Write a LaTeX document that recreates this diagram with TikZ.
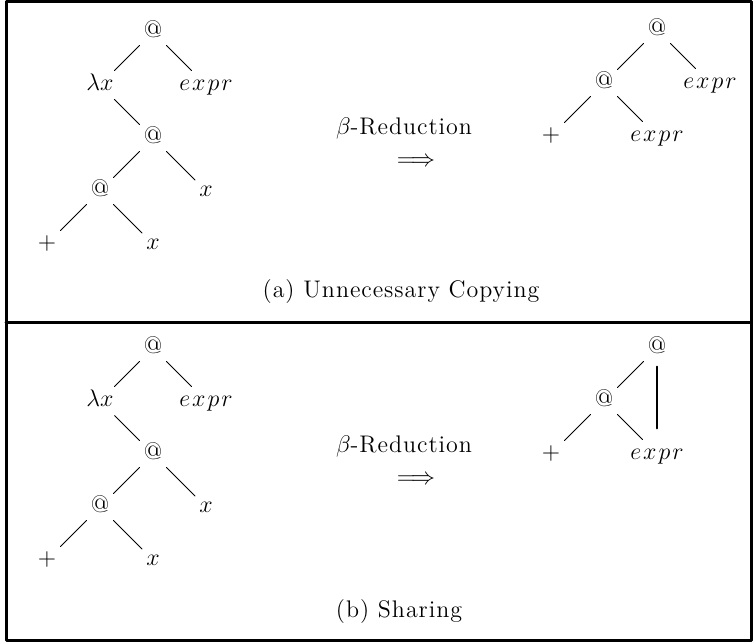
\documentclass[tikz,border=0pt]{standalone}
\usepackage{fontspec}
\setmainfont{Latin Modern Roman}[LetterSpace=4]
\usepackage{tikz}
\usetikzlibrary{positioning}
\newcommand{\exprterm}{e\mkern1.5mu x\mkern1.5mu p\mkern1.5mu r}
\tikzset{
  term diagram/.style={
    font=\fontsize{12}{14}\selectfont,
    line cap=round,
    line join=round
  },
  termnode/.style={
    inner sep=2pt,
    text height=8pt,
    text depth=2.2pt
  },
  labelnode/.style={
    inner sep=0pt
  },
  stepnode/.style={
    labelnode,
    align=center,
    anchor=base,
    font=\fontsize{12}{16}\selectfont
  },
  treeedge/.style={
    draw=black,
    line width=0.5pt
  },
  shareedge/.style={
    draw=black,
    line width=1.1pt
  },
  framebox/.style={
    draw=black,
    line width=1.5pt
  }
}

\begin{document}
\begin{tikzpicture}[term diagram, x=0.5pt, y=-0.5pt, node distance=26.5pt and 26.5pt, on grid]
\useasboundingbox (0,0) rectangle (754,642);
\draw[framebox] (6,2) rectangle (751,640);
\draw[framebox] (6,322) -- (751,322);

% (a) unnecessary copying
\node[termnode] (a-app) at (153,32) {@};
\node[termnode, below left=of a-app] (a-lam) {$\lambda x$};
\node[termnode, below right=of a-app] (a-arg) {$\exprterm$};
\node[termnode, below right=of a-lam] (a-body) {@};
\node[termnode, below left=of a-body] (a-inner) {@};
\node[termnode, below right=of a-body] (a-x1) {$x$};
\node[termnode, below left=of a-inner] (a-plus) {$+$};
\node[termnode, below right=of a-inner] (a-x2) {$x$};

\node[stepnode] (a-red) at (404,166) {$\beta$-Reduction\\\hspace*{12pt}$\Longrightarrow$};

\node[termnode] (a-res) at (657,30) {@};
\node[termnode, below left=of a-res] (a-resapp) {@};
\node[termnode, below right=of a-res] (a-resarg) {$\exprterm$};
\node[termnode, below left=of a-resapp] (a-resplus) {$+$};
\node[termnode, below right=of a-resapp] (a-rescopy) {$\exprterm$};

\node[labelnode] (a-cap) at (401,292) {(a) Unnecessary Copying};

\draw[treeedge] (a-app) -- (a-lam);
\draw[treeedge] (a-app) -- (a-arg);
\draw[treeedge] (a-lam) -- (a-body);
\draw[treeedge] (a-body) -- (a-inner);
\draw[treeedge] (a-body) -- (a-x1);
\draw[treeedge] (a-inner) -- (a-plus);
\draw[treeedge] (a-inner) -- (a-x2);
\draw[treeedge] (a-res) -- (a-resapp);
\draw[treeedge] (a-res) -- (a-resarg);
\draw[treeedge] (a-resapp) -- (a-resplus);
\draw[treeedge] (a-resapp) -- (a-rescopy);

% (b) sharing
\node[termnode] (b-app) at (153,348) {@};
\node[termnode, below left=of b-app] (b-lam) {$\lambda x$};
\node[termnode, below right=of b-app] (b-arg) {$\exprterm$};
\node[termnode, below right=of b-lam] (b-body) {@};
\node[termnode, below left=of b-body] (b-inner) {@};
\node[termnode, below right=of b-body] (b-x1) {$x$};
\node[termnode, below left=of b-inner] (b-plus) {$+$};
\node[termnode, below right=of b-inner] (b-x2) {$x$};

\node[stepnode] (b-red) at (404,484) {$\beta$-Reduction\\\hspace*{12pt}$\Longrightarrow$};

\node[termnode] (b-res) at (657,348) {@};
\node[termnode, below left=of b-res] (b-resapp) {@};
\node[termnode, below left=of b-resapp] (b-resplus) {$+$};
\node[termnode, below right=of b-resapp] (b-resarg) {$\exprterm$};

\node[labelnode] (b-cap) at (399,612) {(b) Sharing};

\draw[treeedge] (b-app) -- (b-lam);
\draw[treeedge] (b-app) -- (b-arg);
\draw[treeedge] (b-lam) -- (b-body);
\draw[treeedge] (b-body) -- (b-inner);
\draw[treeedge] (b-body) -- (b-x1);
\draw[treeedge] (b-inner) -- (b-plus);
\draw[treeedge] (b-inner) -- (b-x2);
\draw[treeedge] (b-res) -- (b-resapp);
\draw[treeedge] (b-resapp) -- (b-resplus);
\draw[treeedge] (b-resapp) -- (b-resarg);
\draw[shareedge, shorten <=2pt, shorten >=5.5pt] (b-res.south) -- (b-res.south |- b-resarg.north);
\end{tikzpicture}
\end{document}
